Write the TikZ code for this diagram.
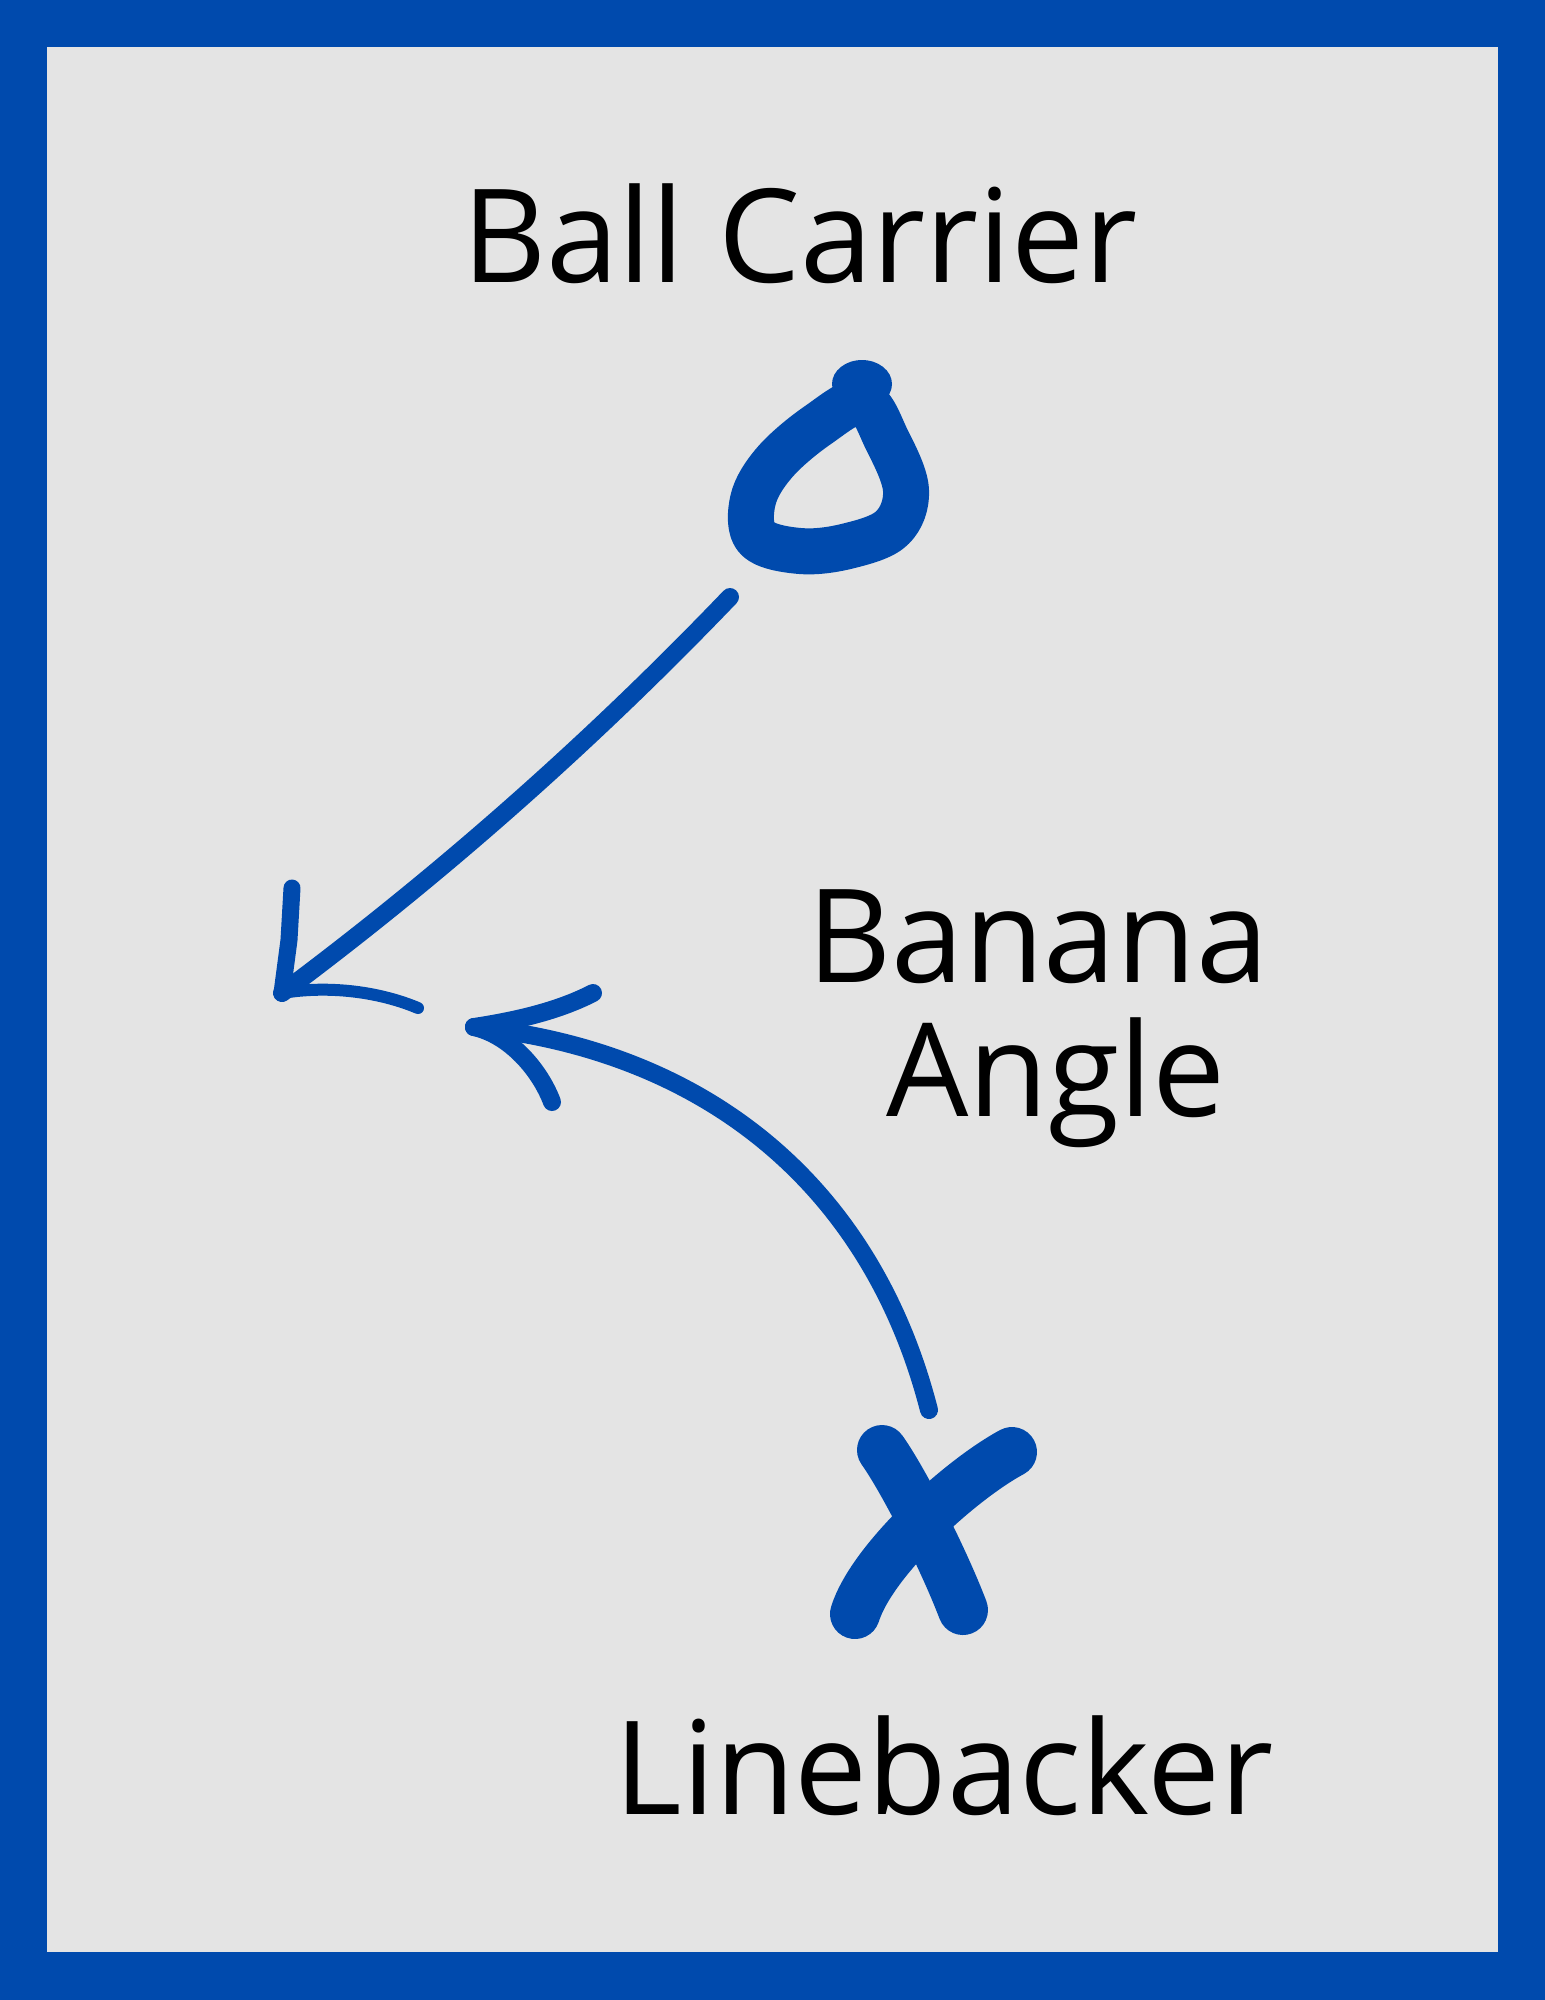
\documentclass[tikz,border=0pt]{standalone}
\usepackage{fontspec}
\setmainfont{Open Sans}
\definecolor{frameblue}{RGB}{0,74,173}
\definecolor{paper}{RGB}{228,228,228}
\tikzset{
  lbl/.style={anchor=base, inner sep=0pt, font=\fontsize{37pt}{41pt}\selectfont, text=black},
  pen/.style={draw=frameblue, line cap=round, line join=round},
}
\begin{document}
\begin{tikzpicture}[x=0.1mm, y=-0.1mm]
\useasboundingbox (0,0) rectangle (1545,2000);
\fill[frameblue] (0,0) rectangle (1545,2000);
\fill[paper] (47,47) rectangle (1498,1952);

\node[lbl] (ball) at (800,282) {Ball Carrier};
\node[lbl] (banana) at (1038,982) {Banana};
\node[lbl] (angle) at (1056,1116) {Angle};
\node[lbl] (lb) at (944,1814) {Linebacker};

% ball carrier "O"
\draw[pen, line width=4.6mm] plot[smooth cycle, tension=0.6] coordinates
  {(862,402) (887,440) (906,490) (892,528) (848,546) (800,551) (757,538) (753,500) (775,462) (818,425)};
\fill[frameblue] (862,384) ellipse (30 and 24);

% linebacker "X"
\draw[pen, line width=5.0mm] (882,1450) .. controls (902,1478) and (942,1555) .. (963,1610);
\draw[pen, line width=5.0mm] (1012,1452) .. controls (960,1480) and (872,1560) .. (855,1614);

% path of ball carrier
\coordinate (c1) at (730,597);
\coordinate (t1) at (282,993);
\draw[pen, line width=1.8mm] (c1) .. controls (593,740) and (443,873) .. (t1);
\draw[pen, line width=1.7mm] (t1) -- (289,940) -- (292,888);
\draw[pen, line width=1.2mm] (t1) .. controls (330,985) and (380,992) .. (418,1008);

% banana angle path of linebacker
\coordinate (c2) at (929,1410);
\coordinate (t2) at (474,1027);
\draw[pen, line width=1.8mm] (c2) .. controls (870,1180) and (700,1050) .. (t2);
\draw[pen, line width=1.8mm] (t2) .. controls (520,1020) and (560,1010) .. (593,993);
\draw[pen, line width=1.8mm] (t2) .. controls (510,1035) and (540,1070) .. (552,1102);
\end{tikzpicture}
\end{document}
